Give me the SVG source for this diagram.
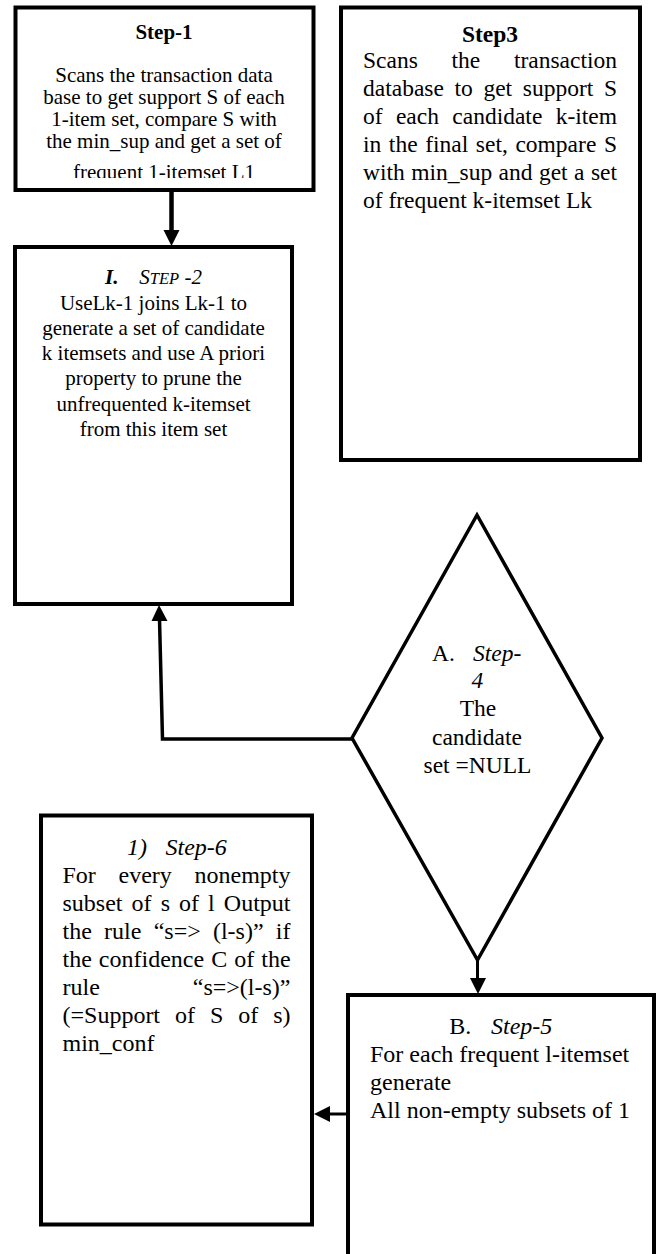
<svg xmlns="http://www.w3.org/2000/svg" width="656" height="1254" viewBox="0 0 656 1254">
<defs>
<style>
.box{fill:#fff;stroke:#000;stroke-width:4}
.dia{fill:#fff;stroke:#000;stroke-width:3.5;stroke-linejoin:miter}
.t{font-family:"Liberation Serif","Times New Roman",serif;fill:#000}
.s21{font-size:21px}
.s23{font-size:23.5px}
.s24{font-size:24px}
.b{font-weight:bold}
.i{font-style:italic}
.c{text-anchor:middle}
.e{text-anchor:end}
.ln{fill:none;stroke:#000}
.ah{fill:#000;stroke:none}
</style>
<clipPath id="clip1"><rect x="17" y="9" width="294" height="169"/></clipPath>
</defs>

<g id="step1">
<rect class="box" x="15.5" y="7.5" width="298" height="182.5"/>
<text class="t s21 b c" x="164" y="39">Step-1</text>
<g clip-path="url(#clip1)">
<text class="t s21 c" x="164" y="82">Scans the transaction data</text>
<text class="t s21 c" x="164" y="104">base to get support S of each</text>
<text class="t s21 c" x="164" y="126">1-item set, compare S with</text>
<text class="t s21 c" x="164" y="148">the min_sup and get a set of</text>
<text class="t s21 c" x="164" y="178.5">frequent 1-itemset L1</text>
</g>
</g>

<g id="step2">
<rect class="box" x="15" y="247" width="277" height="357"/>
<text class="t s21 b i" x="105" y="283.5">I.</text>
<text class="t s21 i" x="139.3" y="283.5">S<tspan font-size="16.5">TEP</tspan> -2</text>
<text class="t s21 c" x="153.5" y="309.5">UseLk-1 joins Lk-1 to</text>
<text class="t s21 c" x="153.5" y="334.8">generate a set of candidate</text>
<text class="t s21 c" x="153.5" y="360.1">k itemsets and use A priori</text>
<text class="t s21 c" x="153.5" y="385.4">property to prune the</text>
<text class="t s21 c" x="153.5" y="410.7">unfrequented k-itemset</text>
<text class="t s21 c" x="153.5" y="436">from this item set</text>
</g>

<g id="step3">
<rect class="box" x="341" y="7.5" width="299" height="452.5"/>
<text class="t s23 b c" x="490" y="42">Step3</text>
<text class="t s23" x="363" y="68" word-spacing="27.8">Scans the transaction</text>
<text class="t s23" x="363" y="96" word-spacing="4.75">database to get support S</text>
<text class="t s23" x="363" y="124" word-spacing="7.46">of each candidate k-item</text>
<text class="t s23" x="363" y="152" word-spacing="1.72">in the final set, compare S</text>
<text class="t s23" x="363" y="180" word-spacing="0.55">with min_sup and get a set</text>
<text class="t s23" x="363" y="208">of frequent k-itemset Lk</text>
</g>

<g id="step4">
<polygon class="dia" points="477,515 602,738 477.5,960 352,738"/>
<text class="t s23" x="432" y="661">A.</text>
<text class="t s23 i" x="473" y="661">Step-</text>
<text class="t s23 i" x="471.5" y="688">4</text>
<text class="t s23 c" x="478" y="716">The</text>
<text class="t s23 c" x="477" y="745">candidate</text>
<text class="t s23 c" x="477.5" y="773">set =NULL</text>
</g>

<g id="step5">
<rect class="box" x="348" y="995" width="306" height="275"/>
<text class="t s24" x="449.3" y="1034">B.</text>
<text class="t s24 i" x="491" y="1034">Step-5</text>
<text class="t s24" x="370" y="1062">For each frequent l-itemset</text>
<text class="t s24" x="370" y="1090">generate</text>
<text class="t s24" x="370" y="1118">All non-empty subsets of 1</text>
</g>

<g id="step6">
<rect class="box" x="41" y="815.5" width="271" height="409"/>
<text class="t s24 i" x="127" y="855">1)</text>
<text class="t s24 i" x="165.5" y="855">Step-6</text>
<text class="t s24" x="62.5" y="883" word-spacing="16.7">For every nonempty</text>
<text class="t s24" x="62.5" y="911" word-spacing="3.07">subset of s of l Output</text>
<text class="t s24" x="62.5" y="939" word-spacing="6.25">the rule “s=&gt; (l-s)” if</text>
<text class="t s24" x="62.5" y="967" word-spacing="1.03">the confidence C of the</text>
<text class="t s24" x="62.5" y="995">rule</text>
<text class="t s24 e" x="290.5" y="995">“s=&gt;(l-s)”</text>
<text class="t s24" x="62.5" y="1023" word-spacing="8.95">(=Support of S of s)</text>
<text class="t s24" x="62.5" y="1051">min_conf</text>
</g>

<g id="connectors">
<line class="ln" x1="171.5" y1="190" x2="171.5" y2="232" stroke-width="4.5"/>
<polygon class="ah" points="163.5,230 179.5,230 171.5,246"/>
<path class="ln" d="M352,739 H162.5 L159.5,619" stroke-width="3.5"/>
<polygon class="ah" points="151.5,621 167.5,621 159,605"/>
<line class="ln" x1="477.5" y1="960" x2="477.5" y2="980" stroke-width="3"/>
<polygon class="ah" points="470,978 486,978 478,994"/>
<line class="ln" x1="348" y1="1114" x2="328" y2="1114" stroke-width="3"/>
<polygon class="ah" points="330,1106 330,1122 314,1114"/>
</g>
</svg>
